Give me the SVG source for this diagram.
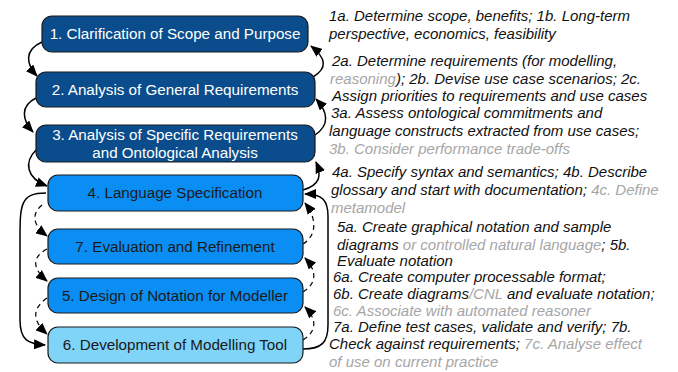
<svg xmlns="http://www.w3.org/2000/svg" width="678" height="372" viewBox="0 0 678 372">
<style>
.box{stroke:#1a1a1a;stroke-width:1.2}
.dark{fill:#0b4d8c}
.mid{fill:#0a8ef3}
.light{fill:#7fd4f8}
.bt{font-family:"Liberation Sans",Arial,sans-serif;font-size:15.2px;text-anchor:middle}
.wt{fill:#ffffff}
.kt{fill:#1a1a1a}
.note{font-family:"Liberation Sans",Arial,sans-serif;font-size:15px;font-style:italic;fill:#111}
.g{fill:#a6a6a6}
.c{fill:none;stroke:#000;stroke-width:1.5}
.d{stroke-dasharray:5,4;stroke-width:1.2}
</style>
<defs>
<marker id="ah" markerWidth="12" markerHeight="10" refX="11" refY="5" orient="auto" markerUnits="userSpaceOnUse">
<path d="M0,0 L12,5 L0,10 Z" fill="#000"/>
</marker>
</defs>
<g id="connectors">
<path class="c" d="M42,42 C24,50 26,64 37,76" marker-end="url(#ah)"/>
<path class="c" d="M36,98 C20,106 22,120 33,132" marker-end="url(#ah)"/>
<path class="c" d="M36,150 C24,162 26,178 47,186" marker-end="url(#ah)"/>
<path class="c" d="M46,193 C20,193 20,205 20,240 L20,320 C20,340 28,344 45,345" marker-end="url(#ah)"/>
<path class="c d" d="M42,205 C30,215 34,226 47,236" marker-end="url(#ah)"/>
<path class="c d" d="M47,249 C30,258 34,270 47,281" marker-end="url(#ah)"/>
<path class="c d" d="M47,298 C30,310 34,322 47,334" marker-end="url(#ah)"/>
<path class="c" d="M313,77 C328,68 326,58 311,46" marker-end="url(#ah)"/>
<path class="c" d="M315,135 C330,125 328,112 316,99" marker-end="url(#ah)"/>
<path class="c" d="M303,190 C320,185 322,176 316,162" marker-end="url(#ah)"/>
<path class="c" d="M303,349 C322,349 328,342 328,325 L328,216 C328,200 322,194 305,194" marker-end="url(#ah)"/>
<path class="c d" d="M303,244 C316,236 318,220 305,203" marker-end="url(#ah)"/>
<path class="c d" d="M303,292 C316,284 318,272 305,258" marker-end="url(#ah)"/>
<path class="c d" d="M303,340 C316,332 318,320 305,307" marker-end="url(#ah)"/>
</g>
<g id="n1"><rect class="box dark" x="42" y="16" width="266" height="36" rx="10"/><text class="bt wt" x="175" y="39">1. Clarification of Scope and Purpose</text></g>
<g id="n2"><rect class="box dark" x="36" y="72" width="279" height="35" rx="10"/><text class="bt wt" x="175" y="95">2. Analysis of General Requirements</text></g>
<g id="n3"><rect class="box dark" x="36" y="125" width="279" height="37" rx="10"/><text class="bt wt" x="175" y="140">3. Analysis of Specific Requirements</text><text class="bt wt" x="175" y="158">and Ontological Analysis</text></g>
<g id="n4"><rect class="box mid" x="48" y="175" width="255" height="36" rx="10"/><text class="bt kt" x="175" y="198">4. Language Specification</text></g>
<g id="n7"><rect class="box mid" x="48" y="229" width="255" height="35" rx="10"/><text class="bt kt" x="175" y="252">7. Evaluation and Refinement</text></g>
<g id="n5"><rect class="box mid" x="48" y="278" width="255" height="35" rx="10"/><text class="bt kt" x="175" y="301">5. Design of Notation for Modeller</text></g>
<g id="n6"><rect class="box light" x="48" y="327" width="255" height="36" rx="10"/><text class="bt kt" x="175" y="350">6. Development of Modelling Tool</text></g>
<g id="notes">
<text class="note" x="329" y="21">1a. Determine scope, benefits; 1b. Long-term</text>
<text class="note" x="329" y="39">perspective, economics, feasibility</text>
<text class="note" x="332" y="66">2a. Determine requirements (for modelling,</text>
<text class="note" x="330" y="84"><tspan class="g">reasoning</tspan>); 2b. Devise use case scenarios; 2c.</text>
<text class="note" x="332" y="101">Assign priorities to requirements and use cases</text>
<text class="note" x="331" y="118">3a. Assess ontological commitments and</text>
<text class="note" x="329" y="136">language constructs extracted from use cases;</text>
<text class="note g" x="329" y="154">3b. Consider performance trade-offs</text>
<text class="note" x="332" y="177">4a. Specify syntax and semantics; 4b. Describe</text>
<text class="note" x="331" y="195">glossary and start with documentation; <tspan class="g">4c. Define</tspan></text>
<text class="note g" x="331" y="213">metamodel</text>
<text class="note" x="337" y="232">5a. Create graphical notation and sample</text>
<text class="note" x="337" y="250">diagrams <tspan class="g">or controlled natural language</tspan>;  5b.</text>
<text class="note" x="337" y="266">Evaluate notation</text>
<text class="note" x="333" y="282">6a. Create computer processable format;</text>
<text class="note" x="333" y="299">6b. Create diagrams<tspan class="g">/CNL</tspan> and evaluate notation;</text>
<text class="note g" x="333" y="316">6c. Associate with automated reasoner</text>
<text class="note" x="333" y="332">7a. Define test cases, validate and verify; 7b.</text>
<text class="note" x="329" y="349">Check against requirements; <tspan class="g">7c. Analyse effect</tspan></text>
<text class="note g" x="329" y="367">of use on current practice</text>
</g>
</svg>
